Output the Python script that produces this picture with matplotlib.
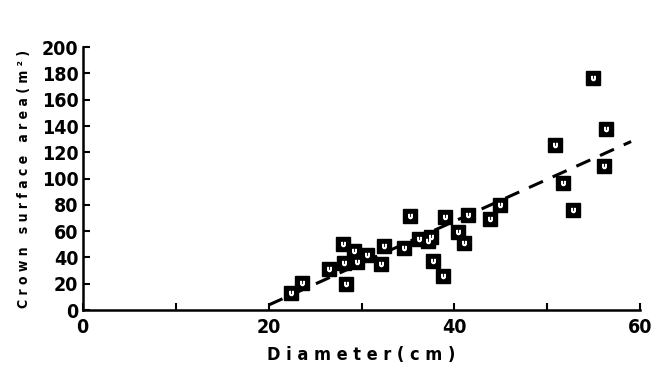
import matplotlib
matplotlib.use("Agg")
import matplotlib.pyplot as plt

# crown surface area vs stem diameter
diameter = [22.4, 23.6, 26.5, 28.0, 28.1, 28.3, 29.2, 29.5, 30.6, 32.4,
            32.1, 34.6, 35.2, 39.0, 41.5, 43.8, 44.9, 36.2, 37.5, 37.2,
            40.4, 41.0, 37.7, 38.8, 54.9, 56.3, 50.8, 56.1, 51.7, 52.8]
area = [13.2, 20.8, 31.0, 50.2, 35.5, 19.5, 45.1, 36.3, 41.8, 48.9,
        35.0, 47.4, 71.5, 71.0, 72.2, 69.0, 79.8, 53.8, 55.7, 52.5,
        59.1, 51.2, 37.3, 26.1, 176.2, 137.4, 125.5, 109.5, 96.8, 76.0]

# fitted line
fit_x = [20, 59]
fit_y = [3.8, 128.2]

x_ticks = [0, 20, 40, 60]
y_ticks = [0, 20, 40, 60, 80, 100, 120, 140, 160, 180, 200]

font = dict(family="DejaVu Sans", weight="bold", stretch="condensed")

fig = plt.figure(figsize=(6.72, 3.74), dpi=100)
ax = fig.add_axes([0.123, 0.171, 0.830, 0.703])

ax.plot(fit_x, fit_y, color="black", linestyle=(0, (5, 3.5)), linewidth=2.2)
ax.plot(diameter, area, linestyle="none", marker="s", markersize=9.5,
        markerfacecolor="black", markeredgecolor="black", clip_on=False)
ax.plot(diameter, area, linestyle="none", marker="$\\cup$", markersize=3,
        color="white", clip_on=False)

ax.set_xlim(0, 60)
ax.set_ylim(0, 200)
ax.set_xticks(x_ticks)
ax.set_xticks([10, 30, 50], minor=True)
ax.set_yticks(y_ticks)

for side in ["top", "right"]:
    ax.spines[side].set_visible(False)
for side in ["left", "bottom"]:
    ax.spines[side].set_linewidth(1.8)

ax.tick_params(axis="both", which="both", direction="in", length=5, width=1.5,
               labelsize=14)
ax.tick_params(axis="y", pad=3)
ax.tick_params(axis="x", pad=6)
for lab in ax.get_xticklabels() + ax.get_yticklabels():
    lab.set_fontweight("bold")
    lab.set_fontstretch("condensed")

ax.set_xlabel("D i a m e t e r ( c m )", fontsize=13, labelpad=6, **font)
ax.set_ylabel("C r o w n   s u r f a c e   a r e a ( m ² )", fontsize=10,
              labelpad=8, **font)

fig.savefig("out.png", dpi=100)
